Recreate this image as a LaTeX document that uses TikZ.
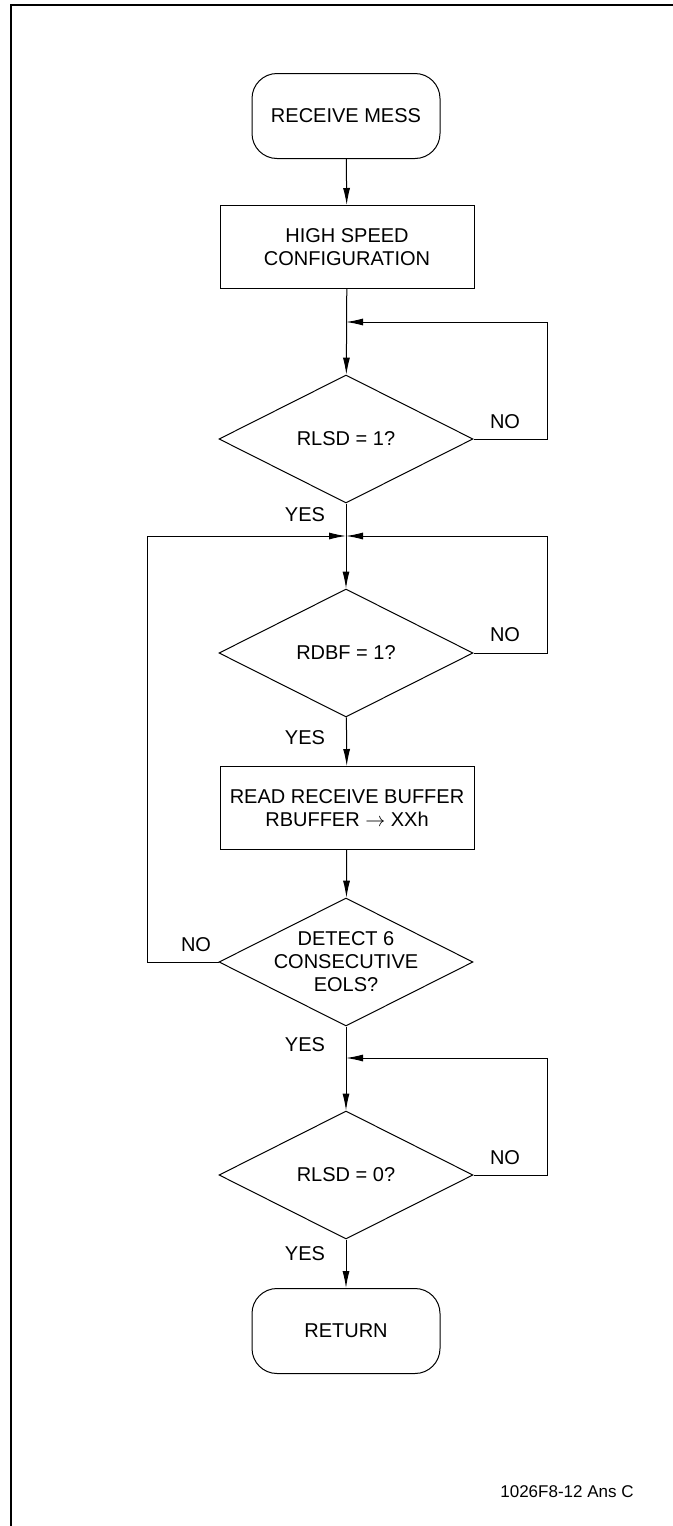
\documentclass[tikz,border=0pt]{standalone}
\usepackage{fontspec}
\setmainfont{Liberation Sans}
\usetikzlibrary{shapes.geometric,arrows.meta}

\tikzset{
  terminal/.style={draw, line width=0.5pt, rounded corners=12.5pt, minimum width=94pt, minimum height=42.5pt},
  process/.style={draw, line width=0.5pt, minimum width=127pt, minimum height=41.5pt, align=center},
  decision/.style={draw, line width=0.5pt, diamond, aspect=2, minimum width=127pt, minimum height=64pt, inner sep=0pt, align=center},
  flow/.style={line width=0.5pt, -{Latex[length=8.5pt,width=3.5pt]}},
  lbl/.style={inner sep=0pt}
}

\begin{document}
\begin{tikzpicture}[x=0.5pt, y=-0.5pt, font=\fontsize{10}{11.5}\selectfont]
    \useasboundingbox (0,0) rectangle (673,1526);

    % Page frame
    \draw[line width=1pt] (11,1540) -- (11,5) -- (690,5);

    % Steps of the flow
    \node[terminal] (start) at (346,116) {RECEIVE MESS};
    \node[process] (config) at (347,247) {HIGH SPEED\\CONFIGURATION};
    \node[decision] (rlsdone) at (346,439) {RLSD = 1?};
    \node[decision] (rdbf) at (346,653) {RDBF = 1?};
    \node[process] (readbuf) at (347,808) {READ RECEIVE BUFFER\\RBUFFER \ensuremath{\rightarrow} XXh};
    \node[decision, inner sep=-6pt] (eols) at (346,962) {DETECT 6\\CONSECUTIVE\\EOLS?};
    \node[decision] (rlsdzero) at (346,1175) {RLSD = 0?};
    \node[terminal] (return) at (346,1331) {RETURN};

    % Joints on the main line
    \coordinate (jointone) at (346,322);
    \coordinate (jointtwo) at (346,536);
    \coordinate (jointfour) at (346,1058);

    % Main line
    \draw[flow] (start) -- (config);
    \draw[flow] (config) -- (rlsdone);
    \draw[flow] (rlsdone) -- (rdbf);
    \draw[flow] (rdbf) -- (readbuf);
    \draw[flow] (readbuf) -- (eols);
    \draw[flow] (eols) -- (rlsdzero);
    \draw[flow] (rlsdzero) -- (return);

    % Loops back
    \draw[flow] (rlsdone.east) -- ++(74,0) |- (jointone);
    \draw[flow] (rdbf.east) -- ++(74,0) |- (jointtwo);
    \draw[flow] (eols.west) -- ++(-71,0) |- (jointtwo);
    \draw[flow] (rlsdzero.east) -- ++(74,0) |- (jointfour);

    % Branch labels
    \node[lbl] (noone) at (505,422) {NO};
    \node[lbl] (notwo) at (505,635) {NO};
    \node[lbl] (nothree) at (196,945) {NO};
    \node[lbl] (nofour) at (505,1158) {NO};
    \node[lbl] (yesone) at (305,515) {YES};
    \node[lbl] (yestwo) at (305,738) {YES};
    \node[lbl] (yesthree) at (305,1045) {YES};
    \node[lbl] (yesfour) at (305,1254) {YES};

    % Figure tag
    \node[lbl, font=\fontsize{8.5}{10}\selectfont] (tag) at (567,1492) {1026F8-12 Ans C};
\end{tikzpicture}
\end{document}
